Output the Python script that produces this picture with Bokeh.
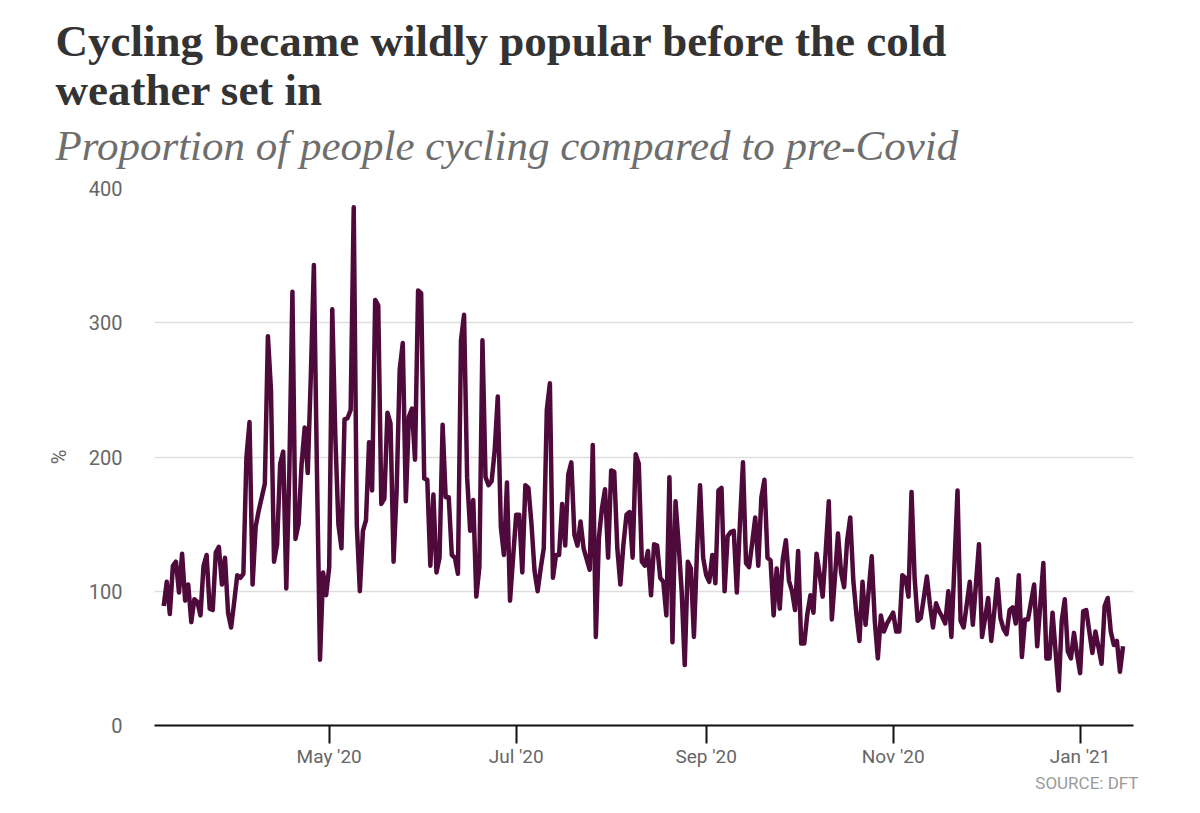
import datetime as dt
from bokeh.plotting import figure
from bokeh.models import Range1d, FixedTicker, DatetimeTickFormatter, Title, ColumnDataSource
from bokeh.embed import file_html
from bokeh.resources import INLINE

# ---------------- data (daily, from 8 Mar 2020) ----------------
start_date = dt.datetime(2020, 3, 8)
cycling_pct = [
    89, 107, 83, 119, 122, 99, 128, 93, 105, 77,
    94, 92, 82, 119, 127, 87, 86, 129, 133, 105,
    125, 84, 73, 92, 112, 110, 113, 200, 226, 105,
    148, 160, 170, 180, 290, 250, 122, 135, 195, 204,
    102, 190, 323, 139, 150, 195, 222, 188, 260, 343,
    190, 49, 114, 97, 118, 310, 215, 150, 132, 228,
    229, 235, 386, 150, 100, 145, 153, 211, 175, 317,
    313, 165, 169, 233, 225, 122, 175, 265, 285, 167,
    230, 236, 198, 324, 322, 184, 183, 119, 172, 114,
    125, 224, 170, 170, 127, 125, 113, 287, 306, 185,
    145, 168, 96, 118, 287, 185, 179, 182, 205, 245,
    148, 127, 181, 93, 125, 157, 157, 114, 179, 177,
    150, 115, 100, 117, 132, 235, 255, 110, 127, 127,
    165, 134, 187, 196, 142, 134, 152, 132, 124, 116,
    209, 66, 140, 162, 176, 125, 190, 189, 132, 105,
    135, 157, 159, 125, 202, 195, 122, 119, 130, 97,
    135, 134, 110, 107, 82, 185, 62, 167, 135, 100,
    45, 122, 117, 66, 130, 179, 125, 112, 107, 127,
    106, 175, 177, 100, 141, 144, 145, 99, 150, 196,
    121, 118, 136, 155, 119, 170, 183, 125, 123, 82,
    117, 87, 124, 138, 108, 100, 86, 130, 61, 61,
    83, 97, 84, 128, 113, 96, 130, 167, 79, 110,
    143, 114, 103, 138, 155, 108, 83, 63, 107, 75,
    100, 126, 78, 50, 82, 70, 76, 80, 84, 70,
    70, 112, 110, 96, 174, 110, 78, 80, 95, 111,
    90, 73, 91, 85, 81, 76, 100, 66, 120, 175,
    78, 73, 90, 107, 75, 105, 135, 66, 80, 95,
    63, 85, 109, 80, 72, 68, 86, 88, 76, 112,
    51, 79, 79, 92, 105, 59, 90, 121, 50, 50,
    84, 55, 26, 78, 94, 55, 50, 69, 53, 39,
    85, 86, 70, 54, 70, 58, 46, 89, 95, 70,
    60, 63, 40, 59,
]
dates = [start_date + dt.timedelta(days=i) for i in range(len(cycling_pct))]

y_ticks = [0, 100, 200, 300, 400]
x_tick_dates = [dt.datetime(2020, 5, 1), dt.datetime(2020, 7, 1), dt.datetime(2020, 9, 1),
                dt.datetime(2020, 11, 1), dt.datetime(2021, 1, 1)]
x_tick_labels = ["May '20", "Jul '20", "Sep '20", "Nov '20", "Jan '21"]

title_line1 = "Cycling became wildly popular before the cold"
title_line2 = "weather set in"
subtitle = "Proportion of people cycling compared to pre-Covid"
source_text = "SOURCE: DFT"

# ---------------- styling ----------------
LINE_COLOR = "#4e0a3a"
LABEL_FONT = "Roboto"
EPOCH = dt.datetime(1970, 1, 1)


def to_ms(d):
    return (d - EPOCH).total_seconds() * 1000.0


src = ColumnDataSource(dict(date=dates, pct=cycling_pct))

p = figure(width=1192, height=805, x_axis_type="datetime",
           output_backend="svg", toolbar_location=None, title=None,
           x_range=Range1d(dt.datetime(2020, 3, 5), dt.datetime(2021, 1, 18, 10)),
           y_range=Range1d(0, 400),
           min_border_left=154, min_border_right=59,
           min_border_top=188, min_border_bottom=80)
p.outline_line_color = None
p.background_fill_color = "white"
p.border_fill_color = "white"

p.line("date", "pct", source=src, line_color=LINE_COLOR, line_width=4.5,
       line_join="round")

# grid
p.xgrid.visible = False
p.ygrid.grid_line_color = "#dedede"
p.ygrid.grid_line_width = 1.5
p.ygrid.ticker = FixedTicker(ticks=y_ticks)

# y axis
yax = p.yaxis[0]
yax.ticker = FixedTicker(ticks=y_ticks)
yax.axis_line_color = None
yax.major_tick_line_color = None
yax.minor_tick_line_color = None
yax.major_label_text_font = LABEL_FONT
yax.major_label_text_font_size = "20px"
yax.major_label_text_color = "#666666"
yax.major_label_standoff = 26
yax.axis_label = "%"
yax.axis_label_text_font = LABEL_FONT
yax.axis_label_text_font_size = "20px"
yax.axis_label_text_font_style = "normal"
yax.axis_label_text_color = "#666666"
yax.axis_label_standoff = 15

# x axis
xax = p.xaxis[0]
xax.ticker = FixedTicker(ticks=[to_ms(d) for d in x_tick_dates])
xax.formatter = DatetimeTickFormatter(months="%b '%y", days="%b '%y", years="%b '%y")
xax.major_label_overrides = {to_ms(d): lab for d, lab in zip(x_tick_dates, x_tick_labels)}
xax.axis_line_color = "#111111"
xax.axis_line_width = 2
xax.major_tick_line_color = "#111111"
xax.major_tick_line_width = 2
xax.major_tick_out = 18
xax.major_tick_in = 0
xax.minor_tick_line_color = None
xax.major_label_standoff = 1
xax.major_label_text_font = LABEL_FONT
xax.major_label_text_font_size = "19px"
xax.major_label_text_color = "#666666"

# titles (closest to the frame first)
p.add_layout(Title(text=subtitle, align="left", offset=-99,
                   text_font="Liberation Serif", text_font_style="italic",
                   text_font_size="43px", text_color="#6e6e6e",
                   text_line_height=0.75, standoff=39), "above")
p.add_layout(Title(text=title_line2, align="left", offset=-99,
                   text_font="Liberation Serif", text_font_style="bold",
                   text_font_size="45px", text_color="#333333", standoff=-28), "above")
p.add_layout(Title(text=title_line1, align="left", offset=-99,
                   text_font="Liberation Serif", text_font_style="bold",
                   text_font_size="45px", text_color="#333333", standoff=22), "above")

p.add_layout(Title(text=source_text, align="right", offset=-5,
                   text_font=LABEL_FONT, text_font_style="normal",
                   text_font_size="17px", text_color="#9a9a9a", standoff=0), "below")

open("out.html", "w").write(file_html(p, INLINE))
